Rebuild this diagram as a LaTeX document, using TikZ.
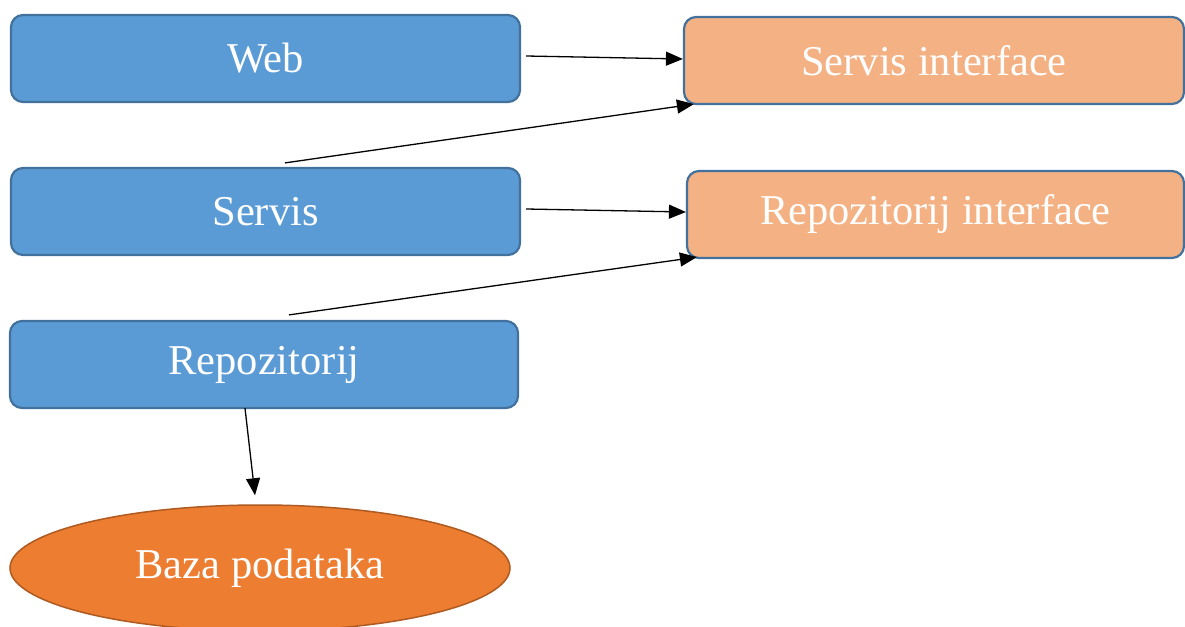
\documentclass[tikz,border=0pt]{standalone}
\usepackage{fontspec}
\setmainfont{Liberation Serif}
\usetikzlibrary{arrows.meta,calc,shapes.geometric}
\definecolor{bluefill}{HTML}{5B9BD5}
\definecolor{blueline}{HTML}{41719C}
\definecolor{peach}{HTML}{F4B183}
\definecolor{orangefill}{HTML}{ED7D31}
\definecolor{orangeline}{HTML}{AE5A21}
\tikzset{
  box/.style={draw=blueline, line width=2.2pt, rounded corners=12pt, text=white,
    font=\fontsize{42.5}{50}\selectfont, inner sep=0pt, minimum height=87pt},
  bluebox/.style={box, fill=bluefill, minimum width=509pt},
  ifacebox/.style={box, fill=peach},
  dbnode/.style={ellipse, draw=orangeline, line width=1.5pt, fill=orangefill, text=white,
    font=\fontsize{42.5}{50}\selectfont, inner sep=0pt, minimum width=500pt, minimum height=126pt},
  link/.style={line width=1.3pt, -{Triangle[length=17pt,width=14pt]}}
}
\begin{document}
\begin{tikzpicture}[x=1pt,y=-1pt]
\useasboundingbox (0,0) rectangle (1185,626);
\node[bluebox] (web) at (265.5,58.5) {Web};
\node[bluebox] (servis) at (265.5,211.5) {Servis};
\node[bluebox, minimum width=508pt] (repo) at (264,364.5) {Repozitorij};
\node[ifacebox, minimum width=500pt] (si) at (934,60.5) {Servis interface};
\node[ifacebox, minimum width=497pt] (ri) at (935.5,214.5) {Repozitorij interface};
\node[dbnode] (baza) at (260,568) {Baza podataka};
\draw[link] ($(web.east)+(5,-2.5)$) -- ($(si.west)+(0,-1.5)$);
\draw[link] ($(servis.north)+(19.5,-4)$) -- ($(si.south west)+(11,-1)$);
\draw[link] ($(servis.east)+(5,-2.5)$) -- ($(ri.west)+(0,-2.5)$);
\draw[link] ($(repo.north)+(25,-5)$) -- ($(ri.south west)+(11,-2)$);
\draw[link] ($(repo.south)+(-19,-1)$) -- ($(baza.north)+(-5,-9)$);
\end{tikzpicture}
\end{document}
